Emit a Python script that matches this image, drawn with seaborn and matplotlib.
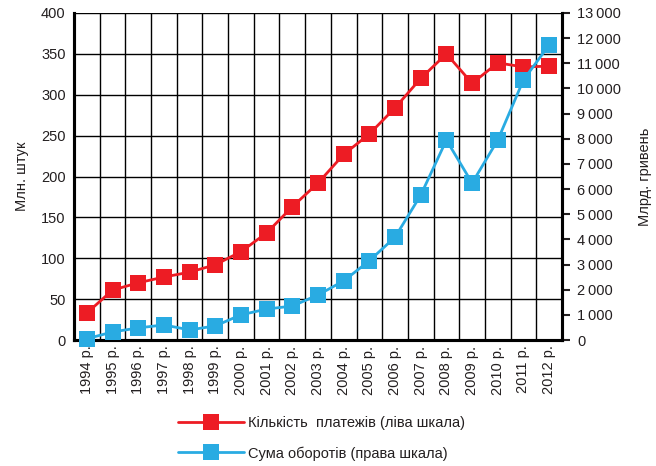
import numpy as np
import pandas as pd
import matplotlib
matplotlib.use('Agg')
import matplotlib.pyplot as plt
from matplotlib.lines import Line2D
import seaborn as sns

sns.set_theme(style='white')
plt.rcParams['font.family'] = ['Liberation Sans', 'DejaVu Sans']
plt.rcParams['text.color'] = '#231F20'
plt.rcParams['axes.labelcolor'] = '#231F20'
plt.rcParams['xtick.color'] = '#231F20'
plt.rcParams['ytick.color'] = '#231F20'

# дані
years = [f'{y} р.' for y in range(1994, 2013)]
payments = [33, 61, 70, 77, 83, 92, 108, 131, 163, 192,
            227, 252, 284, 320, 350, 314, 339, 334, 335]   # млн. штук
turnover = [50, 320, 480, 600, 400, 560, 1000, 1230, 1350, 1790,
            2350, 3150, 4090, 5760, 7950, 6240, 7950, 10340, 11730]  # млрд. грн

red = '#ED1C24'
blue = '#29ABE2'
fs = 10.5

df = pd.DataFrame({'idx': np.arange(len(years)), 'payments': payments, 'turnover': turnover})

fig = plt.figure(figsize=(6.56, 4.66), dpi=100)
ax = fig.add_axes([74 / 656, 1 - 340 / 466, (562 - 74) / 656, (340 - 13) / 466])
ax2 = ax.twinx()

# обидві лінії малюються на ax2, червона — у координатах лівої шкали
sns.lineplot(data=df, x='idx', y='payments', ax=ax2, color=red, lw=2,
             marker='s', markersize=11, markeredgewidth=0, clip_on=False, zorder=4,
             transform=ax.transData)
sns.lineplot(data=df, x='idx', y='turnover', ax=ax2, color=blue, lw=2,
             marker='s', markersize=11, markeredgewidth=0, clip_on=False, zorder=4)

ax.set_xlim(-0.5, len(years) - 0.5)
ax.set_ylim(0, 400)
ax2.set_ylim(0, 13000)

# сітка
for b in np.arange(-0.5, len(years), 1.0):
    ax.axvline(b, color='black', lw=1, zorder=1)
for v in range(50, 401, 50):
    ax.axhline(v, color='black', lw=1, zorder=1)

ax.set_xticks(df['idx'])
ax.set_xticklabels(years, rotation=90, fontsize=fs)
ax.set_yticks(range(0, 401, 50))
ax.tick_params(axis='y', labelsize=fs, length=0, pad=6)
ax.tick_params(axis='x', length=0, pad=4)
ax.set_xlabel('')
ax.set_ylabel('Млн. штук', fontsize=fs, labelpad=9)

ax2.set_yticks(range(0, 13001, 1000))
ax2.set_yticklabels([f'{v:,}'.replace(',', '\u2009') if v >= 1000 else str(v)
                     for v in range(0, 13001, 1000)])
ax2.tick_params(axis='y', labelsize=fs, length=6, width=1.5, direction='out', pad=5)
ax2.set_ylabel('Млрд. гривень', fontsize=fs, labelpad=12)
ax2.set_xlabel('')

for a in (ax, ax2):
    a.spines['top'].set_visible(False)
    for s in ('left', 'right', 'bottom'):
        a.spines[s].set_linewidth(2.2)
        a.spines[s].set_color('black')
ax.patch.set_visible(False)
ax2.patch.set_visible(False)

handles = [Line2D([], [], color=red, lw=2, marker='s', markersize=11, markeredgewidth=0),
           Line2D([], [], color=blue, lw=2, marker='s', markersize=11, markeredgewidth=0)]
labels = ['Кількість  платежів (ліва шкала)', 'Сума оборотів (права шкала)']
fig.legend(handles, labels, loc='upper left', bbox_to_anchor=(165 / 656, 1 - 403 / 466),
           frameon=False, fontsize=fs, handlelength=4.5, labelspacing=1.1,
           handletextpad=0.3)

fig.savefig('out.png', dpi=100)
